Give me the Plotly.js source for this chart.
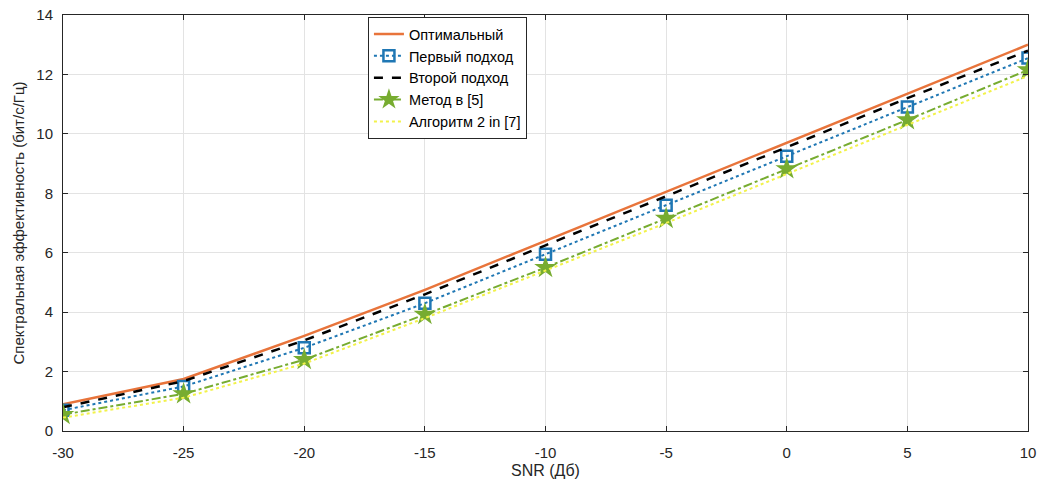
<!DOCTYPE html>
<html>
<head>
<meta charset="utf-8">
<script src="https://cdn.plot.ly/plotly-3.0.1.min.js"></script>
<style>html,body{margin:0;padding:0;background:#fff;}#chart{width:1040px;height:486px;}</style>
</head>
<body>
<div id="chart"></div>
<script>
const snr = [-30, -25, -20, -15, -10, -5, 0, 5, 10];
const optimal = [0.9, 1.75, 3.2, 4.75, 6.4, 8.05, 9.7, 11.35, 13.0];
const firstApproach = [0.7, 1.5, 2.8, 4.3, 5.95, 7.6, 9.25, 10.9, 12.55];
const secondApproach = [0.8, 1.68, 3.05, 4.6, 6.25, 7.9, 9.55, 11.2, 12.8];
const method5 = [0.55, 1.25, 2.4, 3.92, 5.5, 7.15, 8.82, 10.47, 12.15];
const algorithm2 = [0.45, 1.12, 2.27, 3.8, 5.4, 7.0, 8.65, 10.3, 11.95];
const xTicks = [-30, -25, -20, -15, -10, -5, 0, 5, 10];
const yTicks = [0, 2, 4, 6, 8, 10, 12, 14];

const traces = [
  {x: snr, y: optimal, name: 'Оптимальный', mode: 'lines',
   line: {color: '#E8743B', width: 2.5}},
  {x: snr, y: firstApproach, name: 'Первый подход', mode: 'lines+markers',
   line: {color: '#1F77B4', width: 2, dash: 'dot'},
   marker: {symbol: 'square-open', size: 11, color: '#1F77B4', line: {width: 2.5, color: '#1F77B4'}}},
  {x: snr, y: secondApproach, name: 'Второй подход', mode: 'lines',
   line: {color: '#000000', width: 2.5, dash: 'dash'}},
  {x: snr, y: method5, name: 'Метод в [5]', mode: 'lines+markers',
   line: {color: '#77AC30', width: 2, dash: 'dashdot'},
   marker: {symbol: 'star', size: 17, color: '#77AC30', line: {width: 0}}},
  {x: snr, y: algorithm2, name: 'Алгоритм 2 in [7]', mode: 'lines',
   line: {color: '#F2F24A', width: 2, dash: 'dot'}}
];

const layout = {
  width: 1040, height: 486,
  margin: {l: 63, r: 12, t: 15, b: 55},
  paper_bgcolor: '#ffffff', plot_bgcolor: '#ffffff',
  font: {family: 'Liberation Sans, Arial, sans-serif', color: '#262626', size: 15},
  showlegend: true,
  legend: {x: 0.316, y: 0.995, xanchor: 'left', yanchor: 'top',
    bordercolor: '#262626', borderwidth: 1, bgcolor: '#ffffff',
    font: {size: 14.5, color: '#000000'}, tracegroupgap: 0},
  xaxis: {range: [-30, 10], tickvals: xTicks, ticktext: xTicks.map(String),
    showgrid: true, gridcolor: '#e3e3e3', zeroline: false,
    showline: true, linecolor: '#262626', linewidth: 1, mirror: 'ticks',
    ticks: 'inside', ticklen: 5, tickcolor: '#262626', ticklabelstandoff: 8,
    tickfont: {size: 15, color: '#262626'},
    title: {text: 'SNR (Дб)', font: {size: 16, color: '#262626'}, standoff: 4}},
  yaxis: {range: [0, 14], tickvals: yTicks, ticktext: yTicks.map(String),
    showgrid: true, gridcolor: '#e3e3e3', zeroline: false,
    showline: true, linecolor: '#262626', linewidth: 1, mirror: 'ticks',
    ticks: 'inside', ticklen: 5, tickcolor: '#262626', ticklabelstandoff: 6,
    tickfont: {size: 15, color: '#262626'},
    title: {text: 'Спектральная эффективность (бит/с/Гц)', font: {size: 15, color: '#262626'}, standoff: 8}}
};

Plotly.newPlot('chart', traces, layout, {displayModeBar: false, staticPlot: true});
</script>
</body>
</html>
